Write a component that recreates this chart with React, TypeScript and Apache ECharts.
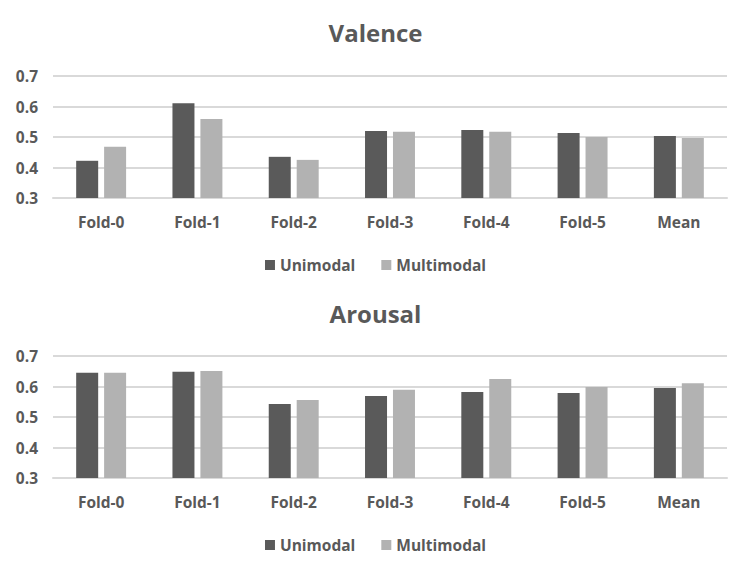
import React, { useEffect, useRef } from "react";
import * as echarts from "echarts";

const categories = ["Fold-0", "Fold-1", "Fold-2", "Fold-3", "Fold-4", "Fold-5", "Mean"];
const valenceUnimodal = [0.422, 0.611, 0.435, 0.52, 0.523, 0.513, 0.503];
const valenceMultimodal = [0.468, 0.559, 0.425, 0.517, 0.517, 0.5, 0.497];
const arousalUnimodal = [0.645, 0.648, 0.543, 0.569, 0.582, 0.579, 0.595];
const arousalMultimodal = [0.645, 0.651, 0.556, 0.589, 0.625, 0.598, 0.611];
const seriesNames = ["Unimodal", "Multimodal"];
const chartTitles = ["Valence", "Arousal"];

const FONT = "'Open Sans', 'Noto Sans', sans-serif";
const TEXT = "#595959";
const DARK = "#5a5a5a";
const LIGHT = "#b2b2b2";
const GRID = "#d9d9d9";

export default function App() {
  const ref = useRef<HTMLDivElement>(null);
  useEffect(() => {
    document.body.style.margin = "0";
    const chart = echarts.init(ref.current!, null, { renderer: "svg" });
    const grids = [
      { left: 53, right: 24, top: 76, height: 122 },
      { left: 53, right: 24, top: 356, height: 122 },
    ];
    const xAxis = grids.map((_, i) => ({
      type: "category" as const,
      gridIndex: i,
      data: categories,
      axisLine: { show: true, lineStyle: { color: GRID, width: 2 } },
      axisTick: { show: false },
      axisLabel: { color: TEXT, fontFamily: FONT, fontWeight: "bold", fontSize: 15.5, margin: 16 },
    }));
    const yAxis = grids.map((_, i) => ({
      type: "value" as const,
      gridIndex: i,
      min: 0.3,
      max: 0.7,
      interval: 0.1,
      axisLine: { show: false },
      axisTick: { show: false },
      splitLine: { lineStyle: { color: GRID, width: 2 } },
      axisLabel: {
        color: TEXT,
        fontFamily: FONT,
        fontWeight: "bold",
        fontSize: 15.5,
        margin: 15,
        formatter: (v: number) => v.toFixed(1),
      },
    }));
    const data = [
      [valenceUnimodal, valenceMultimodal],
      [arousalUnimodal, arousalMultimodal],
    ];
    const series: any[] = [];
    data.forEach((pair, i) => {
      pair.forEach((vals, j) => {
        series.push({
          type: "bar",
          name: seriesNames[j],
          xAxisIndex: i,
          yAxisIndex: i,
          data: vals,
          barWidth: 22,
          barGap: "27%",
          itemStyle: { color: j === 0 ? DARK : LIGHT },
        });
      });
    });
    const legendBase = {
      data: seriesNames,
      left: "center",
      itemWidth: 10,
      itemHeight: 10,
      itemGap: 26,
      icon: "rect",
      textStyle: { color: TEXT, fontFamily: FONT, fontWeight: "bold", fontSize: 15.5 },
    };
    const titleStyle = { color: TEXT, fontFamily: FONT, fontWeight: "bold", fontSize: 24 };
    chart.setOption({
      animation: false,
      title: [
        { text: chartTitles[0], left: "center", top: 15, textStyle: titleStyle },
        { text: chartTitles[1], left: "center", top: 296, textStyle: titleStyle },
      ],
      legend: [
        { ...legendBase, top: 252 },
        { ...legendBase, top: 532 },
      ],
      grid: grids,
      xAxis,
      yAxis,
      series,
    });
    return () => chart.dispose();
  }, []);
  return <div ref={ref} style={{ width: 751, height: 575, background: "#fff" }} />;
}
